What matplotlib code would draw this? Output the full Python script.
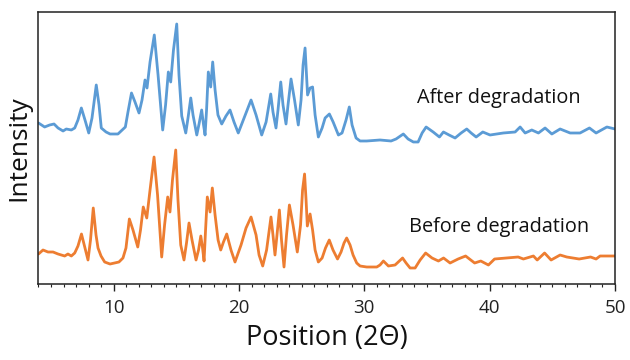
import matplotlib
matplotlib.use("Agg")
import matplotlib.pyplot as plt
from matplotlib.ticker import MultipleLocator

# 2-theta positions and intensities (arbitrary units)
after_x = [4.00, 4.49, 4.89, 5.24, 5.56, 5.96, 6.22, 6.62, 6.89, 7.15, 7.42, 7.71, 8.01, 8.27, 8.61, 8.83,
           9.01, 9.39, 9.71, 10.34, 10.93, 11.14, 11.42, 11.70, 12.02, 12.26, 12.50, 12.66, 12.90, 13.24,
           13.54, 13.91, 14.14, 14.36, 14.55, 14.77, 15.03, 15.21, 15.43, 15.75, 15.93, 16.15, 16.33,
           16.63, 16.81, 17.02, 17.17, 17.29, 17.41, 17.55, 17.74, 17.90, 18.09, 18.32, 18.62, 18.96,
           19.28, 19.60, 19.94, 20.40, 20.96, 21.36, 21.81, 22.16, 22.53, 22.71, 22.95, 23.11, 23.33,
           23.51, 23.75, 23.91, 24.15, 24.43, 24.73, 24.95, 25.11, 25.27, 25.47, 25.67, 25.87, 26.07,
           26.33, 26.63, 26.87, 27.21, 27.51, 27.93, 28.22, 28.54, 28.80, 29.02, 29.34, 29.66, 30.19,
           31.25, 32.13, 32.53, 33.11, 33.49, 33.91, 34.29, 34.61, 34.93, 35.49, 35.99, 36.31, 36.76,
           37.24, 37.72, 38.17, 38.52, 38.92, 39.45, 40.03, 41.09, 42.03, 42.43, 42.83, 43.36, 43.89,
           44.42, 44.96, 45.62, 46.42, 47.21, 47.96, 48.49, 49.35, 50.00]
after_y = [161, 157, 159, 160, 156, 153, 155, 154, 156, 164, 176, 164, 151, 166, 199, 179,
           156, 152, 150, 150, 157, 172, 191, 182, 171, 184, 204, 196, 222, 249,
           209, 154, 179, 212, 202, 234, 260, 209, 168, 151, 166, 186, 169,
           149, 160, 174, 159, 149, 174, 212, 197, 222, 194, 169, 160, 168,
           174, 162, 151, 166, 184, 169, 149, 162, 190, 172, 156, 174, 202,
           179, 160, 179, 205, 184, 159, 184, 219, 236, 189, 196, 197, 169,
           147, 156, 166, 170, 162, 149, 151, 164, 177, 159, 146, 143, 143,
           144, 143, 145, 150, 145, 142, 142, 151, 157, 152, 147, 152, 149,
           146, 151, 155, 151, 147, 152, 149, 151, 152, 157, 151, 154, 151,
           156, 150, 155, 151, 151, 156, 151, 157, 155]

before_x = [4.00, 4.36, 4.76, 5.16, 5.56, 6.09, 6.35, 6.62, 6.89, 7.15, 7.43, 7.71, 7.95, 8.15, 8.37,
            8.59, 8.75, 8.99, 9.28, 9.71, 10.08, 10.42, 10.74, 10.98, 11.25, 11.54, 11.92, 12.14,
            12.36, 12.64, 12.90, 13.22, 13.50, 13.83, 14.06, 14.31, 14.49, 14.69, 14.95, 15.13, 15.35,
            15.61, 15.81, 16.01, 16.25, 16.57, 16.77, 16.95, 17.09, 17.21, 17.33, 17.47, 17.69, 17.87,
            18.09, 18.33, 18.54, 18.76, 19.02, 19.36, 19.68, 20.16, 20.56, 20.96, 21.36, 21.60, 21.89,
            22.20, 22.55, 22.71, 22.87, 23.03, 23.22, 23.39, 23.59, 23.79, 24.02, 24.31, 24.65, 24.91,
            25.07, 25.23, 25.35, 25.45, 25.67, 25.87, 26.07, 26.33, 26.63, 26.90, 27.20, 27.50, 27.86,
            28.14, 28.38, 28.59, 28.86, 29.10, 29.39, 29.66, 30.19, 30.99, 31.25, 31.52, 31.92, 32.45,
            33.05, 33.33, 33.65, 34.05, 34.45, 34.89, 35.40, 35.91, 36.32, 36.84, 37.48, 38.08, 38.80,
            39.29, 39.90, 40.39, 41.37, 42.27, 42.69, 43.49, 43.79, 44.38, 44.90, 45.62, 46.15, 47.14,
            48.05, 48.49, 48.81, 49.37, 50.00]
before_y = [30, 34, 32, 32, 30, 28, 30, 28, 31, 38, 50, 36, 24, 44, 76,
            49, 36, 28, 22, 20, 21, 22, 26, 36, 65, 54, 37, 54,
            77, 66, 94, 127, 89, 27, 59, 87, 72, 104, 134, 84, 39,
            24, 41, 61, 44, 24, 34, 48, 36, 23, 54, 87, 72, 96,
            69, 44, 34, 42, 50, 34, 22, 39, 56, 67, 49, 29, 18,
            34, 67, 49, 29, 49, 74, 44, 17, 49, 79, 59, 32, 59,
            94, 110, 84, 58, 70, 54, 34, 22, 26, 36, 44, 34, 25,
            32, 41, 46, 39, 29, 21, 18, 17, 17, 19, 23, 18, 19,
            26, 21, 16, 16, 24, 31, 26, 23, 26, 21, 25, 28, 21,
            23, 19, 25, 26, 27, 25, 28, 24, 31, 24, 29, 27, 25,
            27, 25, 28, 28, 28]

xlabel = "Position (2\u0398)"
ylabel = "Intensity"
after_label = "After degradation"
before_label = "Before degradation"
xticks = [10, 20, 30, 40, 50]

BLUE = "#5B9BD5"
ORANGE = "#ED7D31"
FONT = "Open Sans"

fig = plt.figure(figsize=(6.3, 3.6), dpi=100)
ax = fig.add_axes([0.0611, 0.2111, 0.9151, 0.7556])

ax.plot(after_x, after_y, color=BLUE, lw=2.0, solid_joinstyle="round", solid_capstyle="round")
ax.plot(before_x, before_y, color=ORANGE, lw=2.0, solid_joinstyle="round", solid_capstyle="round")

ax.set_xlim(4, 50)
ax.set_ylim(0, 272)
ax.set_yticks([])
ax.set_xticks(xticks)
ax.xaxis.set_minor_locator(MultipleLocator(1))
ax.tick_params(axis="x", which="major", direction="out", length=5, width=1.0,
               labelsize=13.5, pad=6, colors="#222222")
ax.tick_params(axis="x", which="minor", direction="out", length=2.5, width=0.8, colors="#222222")
for lab in ax.get_xticklabels():
    lab.set_family(FONT)
    lab.set_color("#222222")

for s in ax.spines.values():
    s.set_color("#222222")
    s.set_linewidth(1.1)

ax.text(40.75, 186, after_label, fontsize=14.3, family=FONT, color="#111111",
        ha="center", va="center")
ax.text(40.75, 57, before_label, fontsize=14.3, family=FONT, color="#111111",
        ha="center", va="center")

ax.set_xlabel(xlabel, fontsize=19.5, family=FONT, color="#111111", labelpad=5)
ax.set_ylabel(ylabel, fontsize=19, family=FONT, color="#111111", labelpad=5)

fig.savefig("out.png", dpi=100)
